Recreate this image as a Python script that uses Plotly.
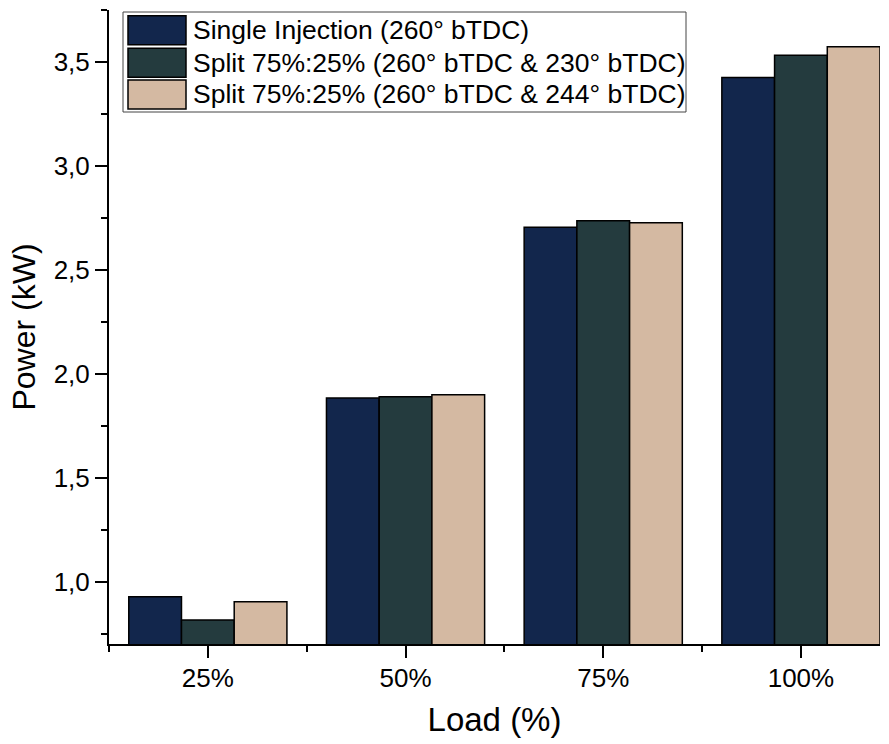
import plotly.graph_objects as go

loads = ["25%", "50%", "75%", "100%"]
series_names = [
    "Single Injection (260° bTDC)",
    "Split 75%:25% (260° bTDC & 230° bTDC)",
    "Split 75%:25% (260° bTDC & 244° bTDC)",
]
single = [0.927, 1.884, 2.705, 3.425]
split_230 = [0.816, 1.889, 2.736, 3.532]
split_244 = [0.903, 1.899, 2.727, 3.573]
colors = ["#12264c", "#243b3e", "#d4b9a2"]

FONT = "Liberation Sans, Arial, sans-serif"
W, H = 889, 744
L, R, T, B = 109, 9, 10, 100
pw, ph = W - L - R, H - T - B

xpos = list(range(len(loads)))
fig = go.Figure()
for name, vals, col in zip(series_names, [single, split_230, split_244], colors):
    fig.add_trace(go.Bar(x=xpos, y=vals, name=name, marker=dict(color=col, line=dict(color="black", width=1.5)),
                         showlegend=False))

def px_x(X):
    return (X - L) / pw

def px_y(Y):
    return (H - B - Y) / ph

shapes = []
annotations = []
# legend box
shapes.append(dict(type="rect", xref="paper", yref="paper", x0=px_x(123), x1=px_x(686), y0=px_y(112), y1=px_y(12),
                   line=dict(color="#444", width=1), fillcolor="white", layer="above"))
row_tops = [15.7, 48.3, 80.0]
for i, (name, col) in enumerate(zip(series_names, colors)):
    y0 = row_tops[i]
    y1 = y0 + 29
    shapes.append(dict(type="rect", xref="paper", yref="paper", x0=px_x(128), x1=px_x(186), y0=px_y(y1), y1=px_y(y0),
                       line=dict(color="black", width=1.5), fillcolor=col, layer="above"))
    annotations.append(dict(xref="paper", yref="paper", x=px_x(191), y=px_y((y0 + y1) / 2), text=name,
                            showarrow=False, xanchor="left", yanchor="middle",
                            font=dict(family=FONT, size=26.5, color="black")))

fig.update_layout(
    width=W, height=H,
    margin=dict(l=L, r=R, t=T, b=B),
    paper_bgcolor="white", plot_bgcolor="white",
    barmode="group", bargap=0.2, bargroupgap=0,
    separators=",.",
    font=dict(family=FONT, size=26, color="black"),
    shapes=shapes, annotations=annotations,
    showlegend=False,
)
fig.update_xaxes(
    range=[-0.5, 3.4], tickmode="array", tickvals=xpos, ticktext=loads,
    showline=True, linecolor="black", linewidth=2, mirror=False,
    ticks="outside", ticklen=12, tickwidth=2, tickcolor="black",
    minor=dict(tickmode="array", tickvals=[-0.5, 0.5, 1.5, 2.5], ticks="outside", ticklen=6, tickwidth=2, tickcolor="black"),
    showgrid=False, zeroline=False,
    tickfont=dict(family=FONT, size=26), ticklabelstandoff=-2,
    title=dict(text="Load (%)", font=dict(family=FONT, size=33), standoff=16),
)
fig.update_yaxes(
    range=[0.7, 3.75], tickmode="array", tickvals=[1.0, 1.5, 2.0, 2.5, 3.0, 3.5], tickformat=".1f",
    showline=True, linecolor="black", linewidth=2, mirror=False,
    ticks="outside", ticklen=12, tickwidth=2, tickcolor="black",
    minor=dict(tickmode="array", tickvals=[0.75, 1.25, 1.75, 2.25, 2.75, 3.25, 3.75], ticks="outside", ticklen=6, tickwidth=2, tickcolor="black"),
    showgrid=False, zeroline=False,
    tickfont=dict(family=FONT, size=26),
    title=dict(text="Power (kW)", font=dict(family=FONT, size=32), standoff=8),
)
fig.write_html("out.html")
